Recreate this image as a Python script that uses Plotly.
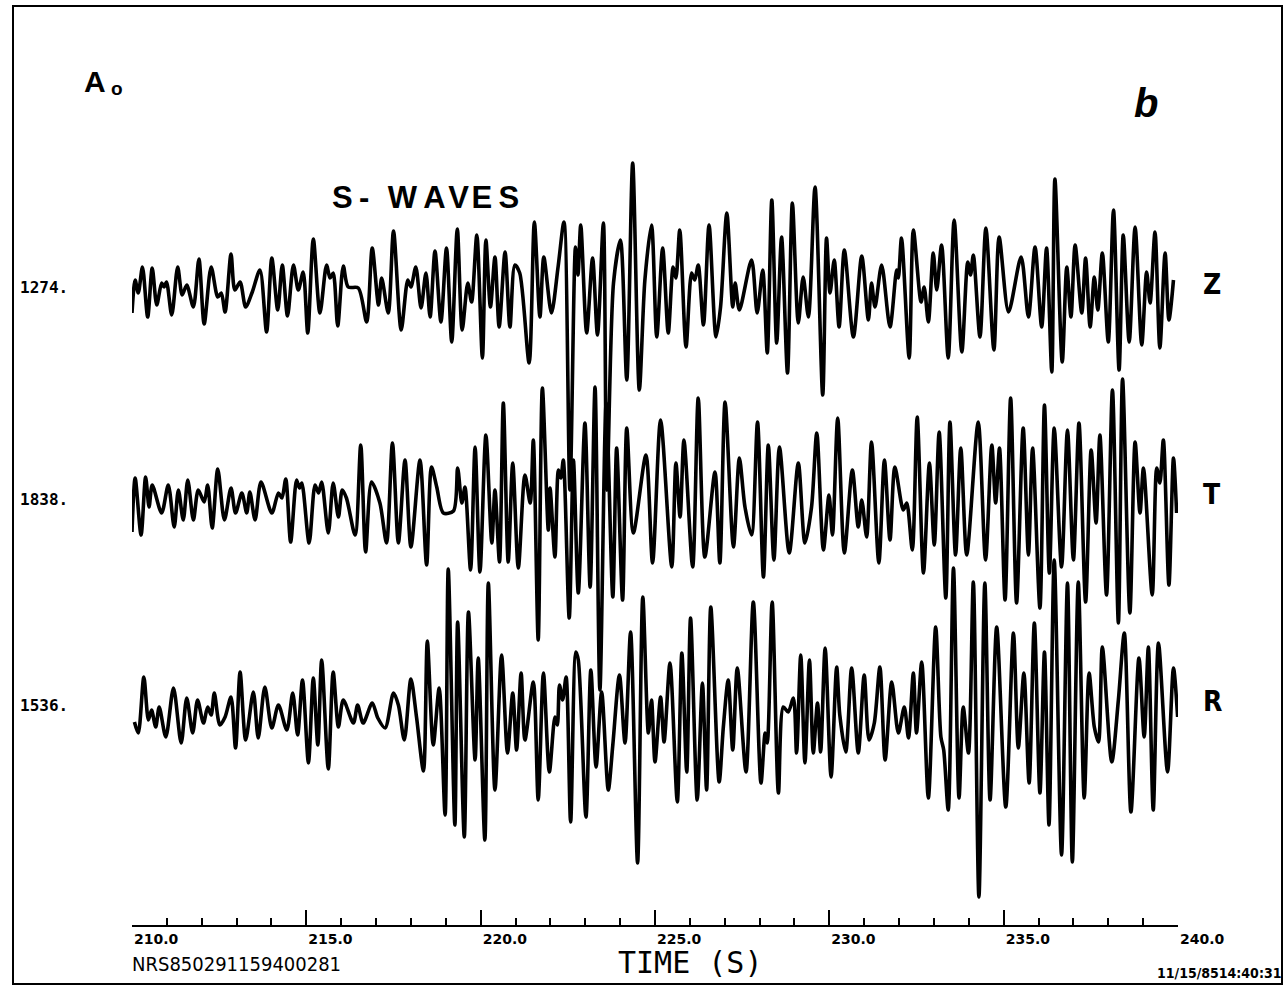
import plotly.graph_objects as go

# ---------------- data (time in s, amplitude in plot units) ----------------
z_t = [210.00,210.09,210.18,210.30,210.45,210.58,210.71,210.85,210.92,210.99,211.14,211.31,211.44,211.57,211.76,211.92,
       212.07,212.27,212.46,212.56,212.67,212.84,212.95,213.10,213.26,213.45,213.67,213.86,214.01,214.18,214.31,214.46,
       214.63,214.77,214.91,215.04,215.20,215.39,215.58,215.68,215.77,215.90,216.06,216.20,216.49,216.73,216.89,217.07,
       217.16,217.35,217.50,217.72,217.91,218.00,218.14,218.29,218.43,218.55,218.69,218.86,219.02,219.17,219.33,219.47,
       219.63,219.74,219.89,220.05,220.15,220.28,220.41,220.53,220.70,220.84,220.98,221.12,221.39,221.54,221.70,221.81,
       222.03,222.22,222.39,222.56,222.72,222.79,222.87,223.04,223.21,223.35,223.52,223.62,223.81,224.01,224.19,224.36,
       224.55,224.71,224.90,225.05,225.22,225.38,225.52,225.60,225.71,225.89,226.05,226.14,226.24,226.39,226.55,226.75,
       226.88,227.06,227.23,227.30,227.42,227.77,227.93,228.09,228.22,228.35,228.49,228.63,228.80,228.94,229.11,229.25,
       229.40,229.59,229.81,229.92,230.02,230.14,230.28,230.43,230.69,230.93,231.12,231.21,231.31,231.50,231.74,231.93,
       231.98,232.07,232.29,232.41,232.63,232.72,232.84,232.98,233.08,233.22,233.41,233.58,233.80,233.97,234.05,234.13,
       234.32,234.49,234.72,234.87,235.14,235.50,235.71,235.90,236.09,236.23,236.38,236.47,236.68,236.81,236.93,237.05,
       237.24,237.35,237.48,237.60,237.70,237.83,238.00,238.15,238.31,238.43,238.60,238.77,238.96,239.10,239.20,239.34,
       239.48,239.63,239.74,239.87]
z_a = [-23,10,-3,23,-27,22,-15,7,3,8,-25,23,-5,5,-17,31,
       -34,23,-7,-3,-22,36,0,8,-17,-2,20,-42,32,-20,25,-26,
       25,0,18,-43,51,-23,25,12,17,-36,24,3,2,-32,42,-15,
       12,-23,59,-40,10,3,23,-18,17,-27,39,-32,42,-52,61,-40,
       7,-12,55,-68,50,-17,33,-37,38,-37,25,17,-73,68,-27,33,
       -23,23,68,-200,43,15,65,-43,32,-45,67,-200,7,50,-90,127,
       -100,10,65,-47,42,-43,23,12,60,-57,17,10,25,-35,65,-47,
       -17,77,-17,7,-20,30,-23,20,-63,90,-53,53,-83,87,-33,13,
       -27,103,-105,52,-3,30,-37,40,-47,34,-30,7,-17,25,-37,20,
       12,52,-68,60,-12,3,-32,37,0,45,-68,70,-62,28,15,35,
       -47,62,-60,53,-22,33,-27,43,-37,42,-82,111,-72,23,-27,45,
       -23,32,-37,13,-20,37,-52,80,-80,55,-52,63,-55,18,-13,58,
       -58,37,-30,10]

t_t = [210.00,210.09,210.26,210.39,210.49,210.58,210.85,211.04,211.21,211.33,211.47,211.60,211.76,211.90,212.07,212.17,
       212.30,212.46,212.65,212.84,212.97,213.15,213.29,213.38,213.53,213.70,214.01,214.20,214.30,214.41,214.55,214.72,
       214.80,214.87,215.08,215.25,215.35,215.44,215.63,215.77,215.92,216.03,216.15,216.40,216.56,216.70,216.87,217.11,
       217.30,217.47,217.64,217.83,218.00,218.26,218.45,218.59,218.74,218.93,219.22,219.34,219.46,219.55,219.71,219.84,
       219.98,220.15,220.32,220.41,220.54,220.65,220.79,220.92,221.08,221.27,221.42,221.51,221.65,221.77,221.94,221.99,
       222.13,222.23,222.30,222.37,222.54,222.66,222.80,222.99,223.14,223.28,223.42,223.60,223.79,223.90,224.07,224.19,
       224.38,224.74,224.93,225.16,225.48,225.60,225.72,225.83,226.08,226.24,226.43,226.72,226.86,227.01,227.25,227.42,
       227.58,227.77,227.94,228.11,228.25,228.41,228.57,228.85,229.11,229.30,229.49,229.64,229.83,229.99,230.09,230.24,
       230.43,230.66,230.83,230.93,231.07,231.21,231.42,231.58,231.74,231.88,232.12,232.22,232.38,232.52,232.70,232.87,
       233.01,233.15,233.34,233.46,233.62,233.77,233.94,234.27,234.48,234.66,234.77,234.88,235.04,235.20,235.37,235.56,
       235.71,235.83,236.04,236.17,236.31,236.45,236.66,236.83,237.00,237.16,237.35,237.51,237.65,237.76,237.95,238.12,
       238.29,238.41,238.62,238.77,238.91,239.01,239.26,239.39,239.48,239.58,239.74,239.87,239.96]
t_a = [-29,25,-32,26,-4,18,-10,18,-24,13,-17,23,-17,13,1,18,
       -25,34,-17,15,-10,10,-10,11,-17,21,-10,10,5,24,-39,23,
       15,20,-40,18,10,21,-30,20,-14,13,5,-32,58,-49,21,0,
       -40,60,-40,43,-44,43,-62,36,16,-10,-8,35,0,16,-67,56,
       -69,68,-40,13,-59,100,-59,40,-65,28,0,63,-137,115,-27,15,
       -54,33,25,43,-115,43,-90,80,-84,116,-187,100,-94,55,-97,75,
       -30,48,-60,83,-64,40,-14,63,-64,105,-54,31,-60,101,-44,45,
       -4,-32,81,-74,58,-57,56,-50,40,-40,-4,70,-47,8,-32,85,
       -50,33,-24,3,-34,61,-60,43,-37,36,-7,0,-47,86,-70,40,
       -42,71,-95,81,-52,55,-52,81,-57,58,0,55,-97,105,-100,75,
       -52,55,-105,98,-70,75,-64,73,-57,80,-99,53,-20,68,-92,113,
       -120,124,-110,61,-10,35,-92,35,20,63,-82,45,-10]

r_t = [210.07,210.18,210.34,210.47,210.56,210.68,210.78,210.97,211.19,211.41,211.57,211.74,211.88,212.05,212.17,212.27,
       212.36,212.52,212.67,212.84,212.97,213.10,213.26,213.48,213.62,213.81,214.01,214.20,214.44,214.61,214.75,214.89,
       215.06,215.20,215.33,215.44,215.63,215.77,215.92,216.06,216.35,216.47,216.63,216.89,217.05,217.26,217.50,217.64,
       217.81,218.00,218.16,218.36,218.47,218.64,218.81,218.98,219.07,219.26,219.34,219.53,219.65,219.84,219.93,220.12,
       220.22,220.41,220.60,220.77,220.92,221.03,221.16,221.27,221.51,221.65,221.80,221.97,222.13,222.20,222.26,222.35,
       222.45,222.58,222.73,222.80,223.02,223.16,223.31,223.47,223.66,223.79,223.98,224.14,224.30,224.50,224.65,224.81,
       224.90,225.00,225.16,225.26,225.43,225.64,225.77,225.91,226.02,226.21,226.36,226.48,226.60,226.84,226.96,227.10,
       227.23,227.36,227.61,227.82,228.04,228.16,228.22,228.36,228.54,228.68,228.82,228.97,229.06,229.18,229.30,229.43,
       229.54,229.66,229.75,229.88,230.05,230.21,230.30,230.47,230.64,230.83,231.00,231.14,231.29,231.45,231.60,231.79,
       231.98,232.15,232.27,232.41,232.50,232.65,232.84,233.05,233.20,233.28,233.41,233.56,233.72,233.84,233.99,234.13,
       234.29,234.46,234.61,234.80,235.06,235.28,235.42,235.58,235.73,235.88,236.04,236.17,236.30,236.45,236.66,236.83,
       236.97,237.14,237.31,237.45,237.60,237.72,237.83,238.10,238.29,238.46,238.65,238.88,239.03,239.15,239.29,239.44,
       239.70,239.87,239.99]
r_a = [-7,-18,38,-5,5,-12,8,-22,27,-28,17,-18,15,-8,8,0,
       22,-10,-2,18,-33,43,-25,23,-23,28,-13,10,-15,22,-20,35,
       -48,37,-30,55,-54,43,-12,15,-8,10,-8,12,-3,-13,22,10,
       -25,36,-2,-56,74,-30,27,-100,146,-110,93,-122,103,-45,57,-125,
       132,-75,60,-38,22,-35,42,-25,33,-85,42,-57,-2,-10,30,15,
       38,-107,63,55,-102,45,-52,23,-75,-30,40,-28,83,-148,118,-18,
       15,-47,18,-27,52,-87,62,-57,97,-85,32,-75,108,-67,-12,35,
       -35,47,-57,113,-68,-18,-28,113,-78,8,3,17,-38,60,-48,55,
       -38,12,-37,67,-62,48,0,-37,47,-38,40,-25,-8,48,-45,33,
       -18,8,-23,42,-18,53,-83,88,-22,-35,-95,147,-83,8,-38,133,
       -182,132,-85,88,-92,82,-33,42,-68,92,-78,63,-110,155,-140,132,
       -147,133,-83,42,-12,-27,68,-47,15,82,-97,57,-22,68,-95,72,
       -57,47,-2]

components = ["Z", "T", "R"]
max_counts = ["1274.", "1838.", "1536."]
tick_values = [210, 215, 220, 225, 230, 235, 240]
tick_labels = ["210.0", "215.0", "220.0", "225.0", "230.0", "235.0", "240.0"]
station_code = "NRS850291159400281"
stamp = "11/15/8514:40:31"

# ---------------- layout geometry ----------------
W, H = 1285, 994
ML, MR, MT, MB = 132, 107, 10, 69
PW, PH = W - ML - MR, H - MT - MB


def fx(p):
    return (p - ML) / PW


def fy(p):
    return (H - MB - p) / PH


def yr(base_px):
    # axis range placing amplitude 0 at pixel row base_px
    return [-(H - MB - base_px), base_px - MT]


fig = go.Figure()
line = dict(color="black", width=3.6, shape="spline", smoothing=0.8)
fig.add_trace(go.Scatter(x=z_t, y=z_a, mode="lines", line=line, yaxis="y", hoverinfo="skip"))
fig.add_trace(go.Scatter(x=t_t, y=t_a, mode="lines", line=line, yaxis="y2", hoverinfo="skip"))
fig.add_trace(go.Scatter(x=r_t, y=r_a, mode="lines", line=line, yaxis="y3", hoverinfo="skip"))

bases = [290, 503, 715]
label_rows = [288, 499, 705]


def note(px, py, text, size, family="Liberation Sans, Arial, sans-serif", xanchor="center"):
    return dict(x=fx(px), y=fy(py), xref="paper", yref="paper", text=text, showarrow=False,
                xanchor=xanchor, yanchor="middle", font=dict(family=family, size=size, color="black"))


ann = []
for comp, cnt, row in zip(components, max_counts, label_rows):
    ann.append(note(44, row, "<b>" + cnt + "</b>", 16, family="DejaVu Sans Mono, monospace"))
    ann.append(note(1212, row - 4, "<b>" + comp + "</b>", 28,
                    family="Liberation Sans Narrow, DejaVu Sans Condensed, Arial Narrow, sans-serif"))

swaves = "S\u2009-\u2009\u2009\u2009W\u2009A\u200aV\u200aE\u2009S"
ann += [
    note(95, 81, "<b>A</b>", 30),
    note(117, 89, "<b>o</b>", 19),
    note(1146, 103, "<b><i>b</i></b>", 40),
    note(330, 197, "<b>" + swaves + "</b>", 31, xanchor="left"),
    note(690, 962, "TIME (S)", 30, family="DejaVu Sans Mono, monospace"),
    note(130, 964, station_code, 20, family="DejaVu Sans Condensed, DejaVu Sans, sans-serif", xanchor="left"),
    note(1283, 973, "<b>" + stamp + "</b>", 14, family="DejaVu Sans Condensed, DejaVu Sans, sans-serif",
         xanchor="right"),
]

frame = dict(type="rect", xref="paper", yref="paper", x0=fx(13), x1=fx(1282), y0=fy(984), y1=fy(6),
             line=dict(color="black", width=2), fillcolor="rgba(0,0,0,0)", layer="above")

fig.update_layout(
    width=W, height=H,
    margin=dict(l=ML, r=MR, t=MT, b=MB, autoexpand=False),
    paper_bgcolor="white", plot_bgcolor="white",
    showlegend=False,
    annotations=ann,
    shapes=[frame],
    xaxis=dict(range=[210, 240], showgrid=False, zeroline=False, showline=True, linecolor="black", linewidth=2,
               ticks="inside", ticklen=15, tickwidth=2, tickcolor="black",
               tickvals=tick_values, ticktext=tick_labels, ticklabelposition="outside right",
               tickfont=dict(family="DejaVu Sans", size=14, color="black", weight="bold"),
               minor=dict(dtick=1, tick0=210, ticks="inside", ticklen=7, tickwidth=2, tickcolor="black"),
               automargin=False, fixedrange=True),
    yaxis=dict(range=yr(bases[0]), visible=False, fixedrange=True),
    yaxis2=dict(range=yr(bases[1]), visible=False, overlaying="y", fixedrange=True),
    yaxis3=dict(range=yr(bases[2]), visible=False, overlaying="y", fixedrange=True),
)

fig.write_html("out.html", config={"displayModeBar": False},
               post_script="document.body.style.margin='0px';document.body.style.overflow='hidden';")
